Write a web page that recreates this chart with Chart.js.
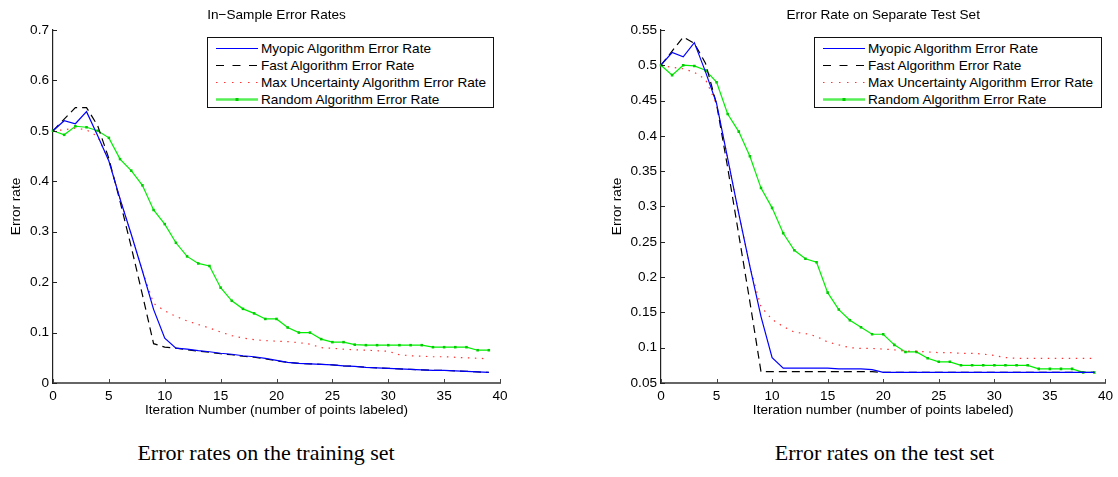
<!DOCTYPE html>
<html><head><meta charset="utf-8">
<script src="https://cdn.jsdelivr.net/npm/chart.js@4/dist/chart.umd.min.js"></script>
<style>
html,body{margin:0;padding:0;background:#fff;width:1118px;height:477px;overflow:hidden;position:relative;font-family:'Liberation Sans',Arial,sans-serif;}
canvas{position:absolute;top:0;}
#c1{left:0px}
#c2{left:559px}
.legend{position:absolute;top:37px;height:71px;box-sizing:border-box;border:1.3px solid #111;background:#fff;padding-top:2px;font-size:13.6px;color:#000}
.legend .row{height:17px;line-height:17px;position:relative;white-space:nowrap}
.legend svg{position:absolute;left:7px;top:0}
.legend span{position:absolute;left:53px;top:0}
.caption{position:absolute;top:440px;font-family:'Liberation Serif','Times New Roman',serif;font-size:22px;line-height:26px;white-space:nowrap;transform:translateX(-50%);color:#000}
</style></head>
<body>
<canvas id="c1" width="559" height="430"></canvas>
<canvas id="c2" width="559" height="430"></canvas>
<div class="legend" id="lg1" style="left:207px;width:287px"></div>
<div class="legend" id="lg2" style="left:814px;width:288px"></div>
<div class="caption" style="left:266px">Error rates on the training set</div>
<div class="caption" style="left:884.5px">Error rates on the test set</div>
<script>
// ---------------- DATA ----------------
const iterations = [0,1,2,3,4,5,6,7,8,9,10,11,12,13,14,15,16,17,18,19,20,21,22,23,24,25,26,27,28,29,30,31,32,33,34,35,36,37,38,39];
const seriesNames = ['Myopic Algorithm Error Rate','Fast Algorithm Error Rate','Max Uncertainty Algorithm Error Rate','Random Algorithm Error Rate'];

const myopicTrain = [0.500,0.520,0.514,0.538,0.490,0.440,0.365,0.295,0.222,0.146,0.089,0.069,0.067,0.064,0.062,0.059,0.057,0.054,0.052,0.049,0.045,0.041,0.039,0.038,0.037,0.036,0.034,0.033,0.031,0.030,0.029,0.028,0.027,0.026,0.025,0.025,0.024,0.023,0.022,0.021];
const fastTrain   = [0.500,0.523,0.546,0.546,0.510,0.445,0.360,0.270,0.175,0.078,0.071,0.069,0.066,0.063,0.061,0.058,0.056,0.053,0.051,0.048,0.044,0.041,0.039,0.038,0.037,0.036,0.034,0.033,0.031,0.030,0.029,0.028,0.027,0.026,0.025,0.025,0.024,0.023,0.022,0.021];
const maxUncTrain = [0.500,0.502,0.505,0.502,0.489,0.440,0.365,0.295,0.222,0.158,0.143,0.132,0.123,0.116,0.109,0.101,0.094,0.089,0.086,0.084,0.083,0.082,0.080,0.077,0.070,0.069,0.067,0.066,0.065,0.064,0.063,0.056,0.054,0.053,0.052,0.052,0.051,0.050,0.049,0.048];
const randomTrain = [0.500,0.492,0.509,0.507,0.500,0.486,0.444,0.421,0.392,0.343,0.315,0.278,0.251,0.237,0.232,0.189,0.163,0.147,0.138,0.127,0.127,0.110,0.100,0.100,0.087,0.081,0.081,0.076,0.075,0.075,0.075,0.075,0.075,0.075,0.071,0.071,0.071,0.071,0.065,0.065];

const myopicTest = [0.500,0.518,0.512,0.532,0.491,0.446,0.368,0.290,0.215,0.144,0.086,0.071,0.071,0.071,0.071,0.071,0.070,0.070,0.070,0.069,0.065,0.065,0.065,0.065,0.065,0.065,0.065,0.065,0.065,0.065,0.065,0.065,0.065,0.065,0.065,0.065,0.065,0.065,0.065,0.065];
const fastTest   = [0.500,0.520,0.540,0.531,0.503,0.445,0.355,0.260,0.165,0.066,0.066,0.066,0.066,0.066,0.066,0.066,0.066,0.066,0.066,0.066,0.065,0.065,0.065,0.065,0.065,0.065,0.065,0.065,0.065,0.065,0.065,0.065,0.065,0.065,0.065,0.065,0.065,0.065,0.065,0.065];
const maxUncTest = [0.500,0.497,0.495,0.490,0.480,0.445,0.368,0.290,0.215,0.158,0.140,0.130,0.122,0.120,0.116,0.108,0.104,0.100,0.099,0.099,0.098,0.097,0.095,0.095,0.094,0.093,0.093,0.092,0.092,0.091,0.089,0.086,0.085,0.085,0.085,0.085,0.085,0.085,0.085,0.085];
const randomTest = [0.500,0.486,0.500,0.499,0.493,0.476,0.431,0.406,0.371,0.326,0.298,0.262,0.238,0.226,0.221,0.178,0.154,0.139,0.129,0.119,0.119,0.104,0.094,0.094,0.085,0.080,0.080,0.075,0.075,0.075,0.075,0.075,0.075,0.075,0.070,0.070,0.070,0.070,0.065,0.065];

const xTicks = [0,5,10,15,20,25,30,35,40];
const yTicksTrain = [0,0.1,0.2,0.3,0.4,0.5,0.6,0.7];
const yTicksTest = [0.05,0.1,0.15,0.2,0.25,0.3,0.35,0.4,0.45,0.5,0.55];

// ---------------- STYLES ----------------
const FONT = "'Liberation Sans', Arial, sans-serif";
const FS = 13.6;
const styles = [
  {borderColor:'#0000ff', borderWidth:1.2, borderDash:[], pointRadius:0},
  {borderColor:'#000000', borderWidth:1.2, borderDash:[8,5], pointRadius:0},
  {borderColor:'rgba(255,0,0,0.8)', borderWidth:1.2, borderDash:[1.5,5.5], pointRadius:0},
  {borderColor:'#00ee00', borderWidth:1.2, borderDash:[], pointRadius:1.8, pointStyle:'rect', pointBackgroundColor:'#00cc00', pointBorderColor:'#00cc00', pointBorderWidth:0}
];

const inwardTicks = {
  id:'inwardTicks',
  afterDraw(chart){
    const {ctx, chartArea:a, scales:{x,y}} = chart;
    ctx.save();
    ctx.lineWidth = 1;
    ctx.strokeStyle = '#444';
    ctx.beginPath();
    x.ticks.forEach((t,i)=>{ const px = Math.round(x.getPixelForTick(i))+0.5; ctx.moveTo(px,a.bottom); ctx.lineTo(px,a.bottom-4); });
    ctx.stroke();
    ctx.strokeStyle = '#222';
    ctx.beginPath();
    y.ticks.forEach((t,i)=>{ const py = Math.round(y.getPixelForTick(i))+0.5; ctx.moveTo(a.left,py); ctx.lineTo(a.left+4,py); });
    ctx.stroke();
    ctx.restore();
  }
};

function fmt(v){ return String(Number(Number(v).toFixed(2))); }

function makeChart(id, cfg){
  const sets = cfg.series.map((arr,k)=>Object.assign({
    label: seriesNames[k],
    data: iterations.map((it,i)=>({x:it, y:arr[i]})),
    tension:0, fill:false, clip:4
  }, styles[k]));
  return new Chart(document.getElementById(id), {
    type:'line',
    data:{datasets:sets},
    plugins:[inwardTicks],
    options:{
      responsive:false, animation:false, devicePixelRatio:1,
      events:[],
      layout:{padding:cfg.padding},
      plugins:{
        legend:{display:false}, tooltip:{enabled:false},
        title:{display:true, text:cfg.title, fullSize:false, color:'#000',
               font:{family:FONT, size:FS, weight:'normal'}, padding:{top:6.8,bottom:6.8}}
      },
      scales:{
        x:{type:'linear', min:0, max:40,
           afterBuildTicks:s=>{ s.ticks = xTicks.map(v=>({value:v})); },
           afterFit:s=>{ s.height = 35; },
           grid:{display:false, drawTicks:false},
           border:{display:true, color:'#666', width:2},
           ticks:{color:'#000', padding:5, font:{family:FONT,size:FS}, callback:v=>fmt(v), maxRotation:0},
           title:{display:true, text:cfg.xTitle, color:'#000', font:{family:FONT,size:FS}, padding:{top:0,bottom:0}}},
        y:{type:'linear', min:cfg.yMin, max:cfg.yMax,
           afterBuildTicks:s=>{ s.ticks = cfg.yTicks.map(v=>({value:v})); },
           afterFit:s=>{ s.width = cfg.yWidth; },
           grid:{display:false, drawTicks:false},
           border:{display:true, color:'#222', width:1.2},
           ticks:{color:'#000', padding:4, font:{family:FONT,size:FS}, callback:v=>fmt(v)},
           title:{display:true, text:'Error rate', color:'#000', font:{family:FONT,size:FS}, padding:{top:0,bottom:0}}}
      }
    }
  });
}

const ch1 = makeChart('c1', {
  title:'In\u2212Sample Error Rates', xTitle:'Iteration Number (number of points labeled)',
  yMin:0, yMax:0.7, yTicks:yTicksTrain, yWidth:45.2,
  padding:{left:7.8, right:59, top:0, bottom:12},
  series:[myopicTrain, fastTrain, maxUncTrain, randomTrain]
});
const ch2 = makeChart('c2', {
  title:'Error Rate on Separate Test Set', xTitle:'Iteration number (number of points labeled)',
  yMin:0.05, yMax:0.55, yTicks:yTicksTest, yWidth:52.3,
  padding:{left:49.7, right:10, top:0, bottom:12},
  series:[myopicTest, fastTest, maxUncTest, randomTest]
});

function buildLegend(divId, chart){
  const div = document.getElementById(divId);
  chart.data.datasets.forEach(ds=>{
    const row = document.createElement('div'); row.className='row';
    const dash = (ds.borderDash||[]).join(',');
    let svg = '<svg width="44" height="17">';
    if (ds.pointRadius>0){
      svg += '<line x1="1" y1="8.5" x2="43" y2="8.5" stroke="#55ee55" stroke-width="2.6"/>';
      svg += '<rect x="20.5" y="7" width="3" height="3" fill="#00cc00"/>';
    } else if (dash==='1.5,5.5'){
      svg += '<line x1="1" y1="8.5" x2="43" y2="8.5" stroke="'+ds.borderColor+'" stroke-width="1.2" stroke-dasharray="1.5,6.5"/>';
    } else if (dash){
      svg += '<line x1="1" y1="8.5" x2="43" y2="8.5" stroke="'+ds.borderColor+'" stroke-width="1.2" stroke-dasharray="8,8.5"/>';
    } else {
      svg += '<line x1="1" y1="8.5" x2="43" y2="8.5" stroke="'+ds.borderColor+'" stroke-width="1.2"/>';
    }
    svg += '</svg>';
    row.innerHTML = svg + '<span></span>';
    row.querySelector('span').textContent = ds.label;
    div.appendChild(row);
  });
}
buildLegend('lg1', ch1);
buildLegend('lg2', ch2);
</script>
</body></html>
